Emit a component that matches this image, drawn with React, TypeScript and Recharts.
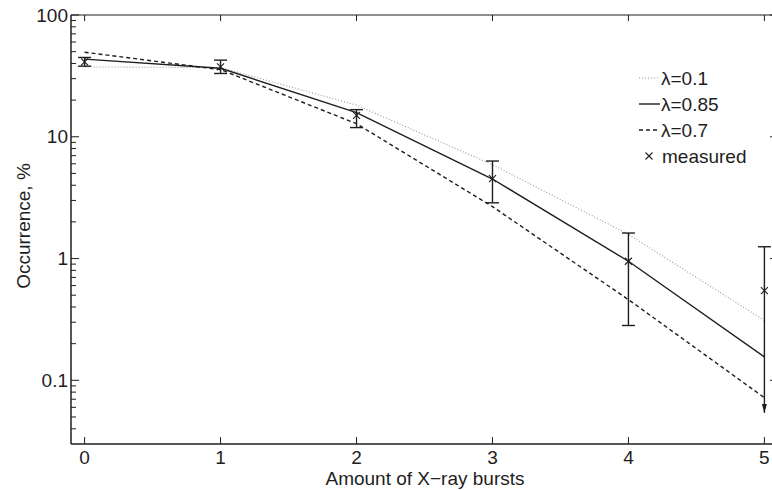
import React from "react";
import {
  ComposedChart,
  Line,
  XAxis,
  YAxis,
  ReferenceLine,
} from "recharts";

// amount of X-ray bursts
const bursts = [0, 1, 2, 3, 4, 5];
// model curves
const lambda01 = [37.5, 37, 18.2, 5.9, 1.58, 0.31];
const lambda085 = [43.4, 36.5, 15.8, 4.5, 0.95, 0.156];
const lambda07 = [49.5, 35.6, 12.8, 2.67, 0.46, 0.072];
// measured occurrence with error range
const measured = [41.3, 37.5, 15.0, 4.53, 0.95, 0.545];
const errUpper = [44.8, 42.6, 16.7, 6.32, 1.62, 1.25];
const errLower = [38.0, 33.1, 11.9, 2.87, 0.282, 0.054];
const lowerOpen = [false, false, false, false, false, true];

const xTicks = [0, 1, 2, 3, 4, 5];
const yMajor = [0.1, 1, 10, 100];
const yMinor = [0.01, 0.1, 1, 10].flatMap((d) =>
  [2, 3, 4, 5, 6, 7, 8, 9].map((m) => d * m)
).filter((v) => v >= 0.035 && v < 100);
const yTicks = [...yMajor, ...yMinor];

const data = bursts.map((x, i) => ({
  x,
  l01: lambda01[i],
  l085: lambda085[i],
  l07: lambda07[i],
  meas: measured[i],
}));

const FONT = "'Liberation Sans', Arial, Helvetica, sans-serif";
const INK = "#1e1e1e";

const isMajor = (v: number) => yMajor.some((m) => Math.abs(m - v) < 1e-9);

const LeftTick = (props: any) => {
  const { x, y, payload } = props;
  const major = isMajor(payload.value);
  return (
    <g>
      <line x1={x} x2={x + (major ? 8 : 5)} y1={y} y2={y} stroke={INK} strokeWidth={1} />
      {major && (
        <text x={x - 3} y={y} textAnchor="end" dominantBaseline="central"
          fontSize={19} fontFamily={FONT} fill={INK}>
          {String(payload.value)}
        </text>
      )}
    </g>
  );
};

const RightTick = (props: any) => {
  const { x, y, payload } = props;
  const major = isMajor(payload.value);
  return <line x1={x} x2={x - (major ? 8 : 5)} y1={y} y2={y} stroke={INK} strokeWidth={1} />;
};

const BottomTick = (props: any) => {
  const { x, y, payload } = props;
  return (
    <g>
      <line x1={x} x2={x} y1={y} y2={y - 7} stroke={INK} strokeWidth={1} />
      <text x={x} y={y + 7} dy="0.71em" textAnchor="middle"
        fontSize={19} fontFamily={FONT} fill={INK}>
        {String(payload.value)}
      </text>
    </g>
  );
};

const TopTick = (props: any) => {
  const { x, y } = props;
  return <line x1={x} x2={x} y1={y} y2={y + 6} stroke={INK} strokeWidth={1} />;
};

const Cross = (props: any) => {
  const { cx, cy } = props;
  if (cx == null || cy == null) return null;
  const s = 3.5;
  return (
    <path d={`M${cx - s},${cy - s}L${cx + s},${cy + s}M${cx - s},${cy + s}L${cx + s},${cy - s}`}
      stroke={INK} strokeWidth={1.1} fill="none" />
  );
};

const errorShape = (open: boolean) => (props: any) => {
  const { x1, y1, y2 } = props;
  const w = 6.5;
  return (
    <g>
      <line x1={x1} x2={x1} y1={y1} y2={y2} stroke={INK} strokeWidth={1.4} />
      <line x1={x1 - w} x2={x1 + w} y1={y2} y2={y2} stroke={INK} strokeWidth={1.4} />
      {open ? (
        <path d={`M${x1 - 2.5},${y1 - 9}L${x1 + 2.5},${y1 - 9}L${x1},${y1}Z`} fill={INK} />
      ) : (
        <line x1={x1 - w} x2={x1 + w} y1={y1} y2={y1} stroke={INK} strokeWidth={1.4} />
      )}
    </g>
  );
};

const legendRows = [
  { label: "λ=0.1", kind: "dotted" },
  { label: "λ=0.85", kind: "solid" },
  { label: "λ=0.7", kind: "dashed" },
  { label: "measured", kind: "marker" },
];

const LegendBox = () => (
  <g fontFamily={FONT} fontSize={19} fill={INK}>
    {legendRows.map((r, i) => {
      const y = 78 + i * 26;
      let sample: any = null;
      if (r.kind === "dotted")
        sample = <line x1={639} x2={660} y1={y} y2={y} stroke="#999" strokeWidth={1.1} strokeDasharray="1 2" />;
      if (r.kind === "solid")
        sample = <line x1={639} x2={660} y1={y} y2={y} stroke={INK} strokeWidth={1.4} />;
      if (r.kind === "dashed")
        sample = <line x1={639} x2={660} y1={y} y2={y} stroke={INK} strokeWidth={1.4} strokeDasharray="4 3" />;
      if (r.kind === "marker") sample = <Cross cx={649} cy={y} />;
      return (
        <g key={r.label}>
          {sample}
          <text x={r.kind === "marker" ? 662 : 661} y={y} dominantBaseline="central">{r.label}</text>
        </g>
      );
    })}
  </g>
);

export default function App() {
  return (
    <div style={{ position: "absolute", left: 0, top: 0, width: 772, height: 490, overflow: "hidden" }}>
      <ComposedChart width={798} height={490} data={data}
        margin={{ top: 14, right: 8, bottom: 0, left: 0 }}>
        <XAxis xAxisId="b" dataKey="x" type="number" domain={[-0.1, 5.1]} ticks={xTicks}
          interval={0} height={46} tickSize={0} tickMargin={0} tickLine={false}
          axisLine={{ stroke: INK, strokeWidth: 1.5 }} tick={(p: any) => <BottomTick {...p} />}
          allowDataOverflow />
        <XAxis xAxisId="t" orientation="top" dataKey="x" type="number" domain={[-0.1, 5.1]}
          ticks={xTicks} interval={0} height={1} tickSize={0} tickMargin={0} tickLine={false}
          axisLine={{ stroke: INK, strokeWidth: 1.2 }} tick={(p: any) => <TopTick {...p} />}
          allowDataOverflow />
        <YAxis yAxisId="l" scale="log" domain={[0.03, 100]} ticks={yTicks} interval={0}
          width={71} tickSize={0} tickMargin={0} tickLine={false} allowDataOverflow
          axisLine={{ stroke: INK, strokeWidth: 1.5 }} tick={(p: any) => <LeftTick {...p} />} />
        <YAxis yAxisId="r" orientation="right" scale="log" domain={[0.03, 100]} ticks={yTicks}
          interval={0} width={12} tickSize={0} tickMargin={0} tickLine={false} allowDataOverflow
          axisLine={{ stroke: INK, strokeWidth: 1.2 }} tick={(p: any) => <RightTick {...p} />} />

        <Line xAxisId="b" yAxisId="l" dataKey="l01" type="linear" stroke="#999" strokeWidth={1.1}
          strokeDasharray="1 2" dot={false} activeDot={false} isAnimationActive={false} />
        <Line xAxisId="b" yAxisId="l" dataKey="l085" type="linear" stroke={INK} strokeWidth={1.4}
          dot={false} activeDot={false} isAnimationActive={false} />
        <Line xAxisId="b" yAxisId="l" dataKey="l07" type="linear" stroke={INK} strokeWidth={1.4}
          strokeDasharray="4 3" dot={false} activeDot={false} isAnimationActive={false} />

        {bursts.map((b, i) => (
          <ReferenceLine key={`err${b}`} xAxisId="b" yAxisId="l" ifOverflow="visible"
            segment={[{ x: b, y: errLower[i] }, { x: b, y: errUpper[i] }]}
            shape={errorShape(lowerOpen[i])} />
        ))}

        <Line xAxisId="b" yAxisId="l" dataKey="meas" type="linear" stroke="none"
          dot={(p: any) => <Cross key={`m${p.index}`} {...p} />} activeDot={false}
          isAnimationActive={false} />

        <text x={23} y={226} transform="rotate(-90, 23, 226)" textAnchor="middle"
          dominantBaseline="central" fontSize={19} fontFamily={FONT} fill={INK}>
          Occurrence, %
        </text>
        <text x={425} y={485} textAnchor="middle" fontSize={19} fontFamily={FONT} fill={INK}>
          Amount of X−ray bursts
        </text>
        <LegendBox />
      </ComposedChart>
    </div>
  );
}
